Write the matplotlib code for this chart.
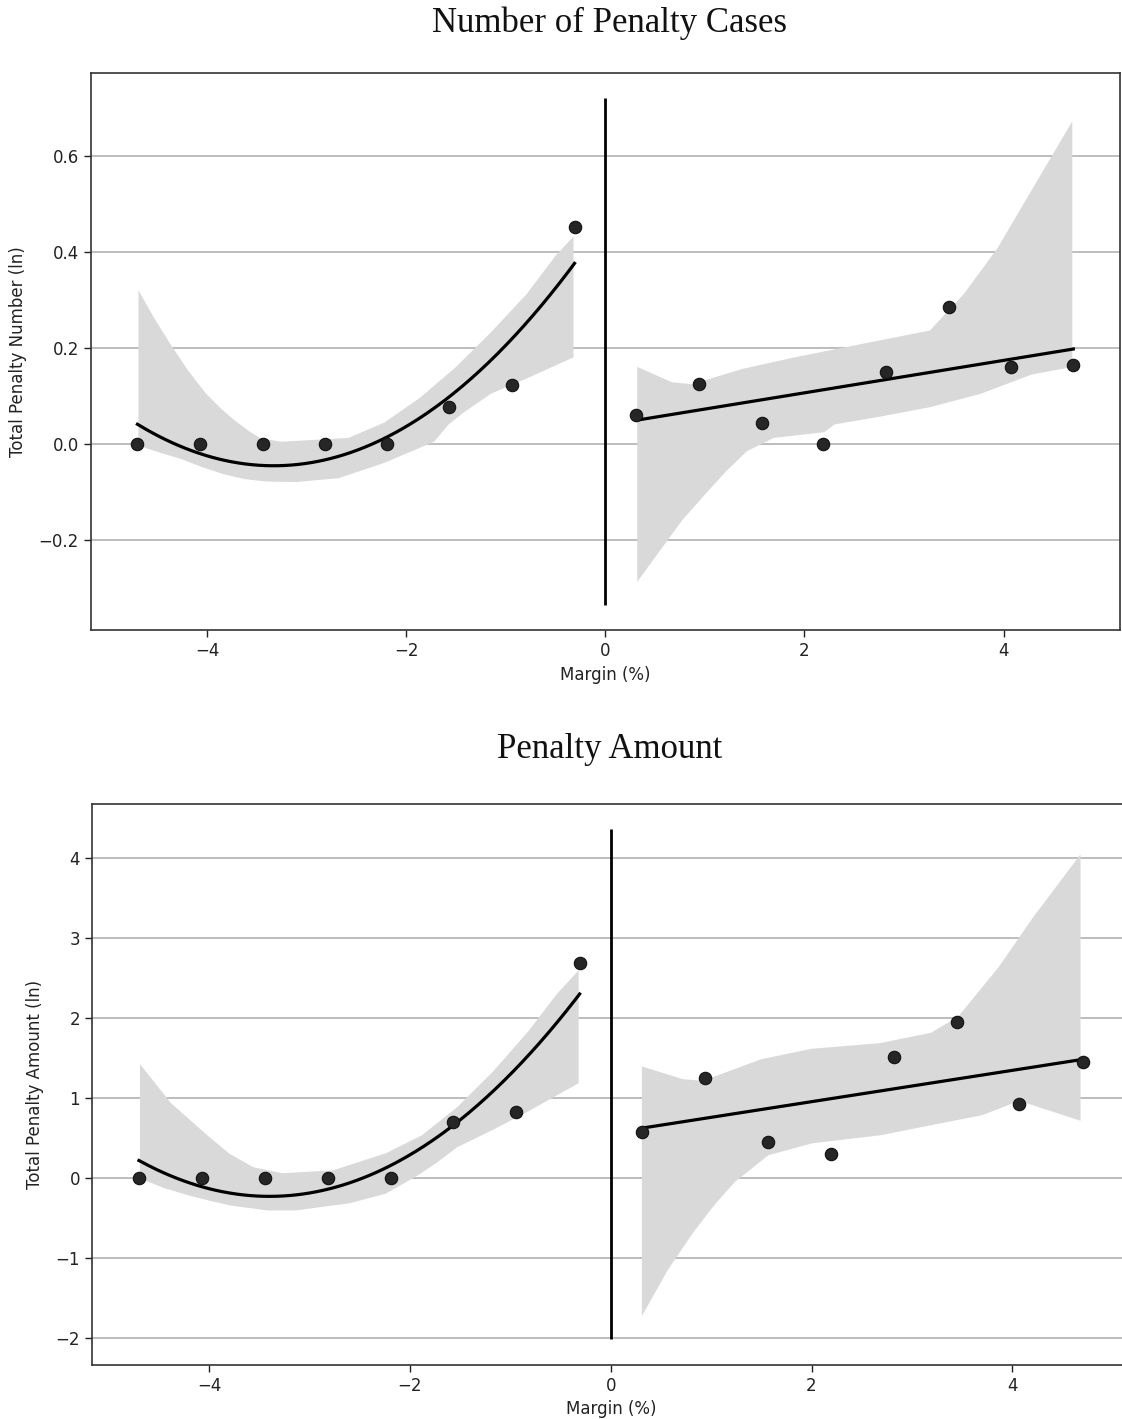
import numpy as np
import matplotlib
matplotlib.use("Agg")
import matplotlib.pyplot as plt

# ---------------- data ----------------
x_left = [-4.70, -4.07, -3.44, -2.82, -2.19, -1.57, -0.94, -0.31]
x_right = [0.31, 0.94, 1.57, 2.19, 2.82, 3.45, 4.07, 4.70]

num_left = [0.0, 0.0, 0.0, 0.0, 0.0, 0.078, 0.124, 0.452]
num_right = [0.061, 0.125, 0.045, 0.0, 0.151, 0.285, 0.161, 0.165]

amt_left = [0.0, 0.0, 0.0, 0.0, 0.0, 0.69, 0.82, 2.68]
amt_right = [0.57, 1.24, 0.445, 0.30, 1.51, 1.95, 0.92, 1.45]

# confidence band edges
num_left_up_x = [-4.69, -4.53, -4.37, -4.19, -4.01, -3.86, -3.72, -3.58, -3.47, -3.26, -2.58, -2.22, -1.86, -1.50, -1.15, -0.79, -0.50, -0.32]
num_left_up_y = [0.321, 0.262, 0.209, 0.153, 0.105, 0.074, 0.049, 0.027, 0.013, 0.005, 0.013, 0.045, 0.097, 0.161, 0.233, 0.313, 0.393, 0.433]
num_left_lo_x = [-4.69, -4.47, -4.26, -4.05, -3.83, -3.62, -3.40, -3.11, -2.68, -2.22, -1.72, -1.58, -1.43, -1.15, -0.79, -0.32]
num_left_lo_y = [-0.003, -0.018, -0.031, -0.048, -0.063, -0.073, -0.078, -0.079, -0.071, -0.039, 0.005, 0.040, 0.065, 0.105, 0.137, 0.181]

num_right_up_x = [0.32, 0.67, 0.87, 1.38, 1.90, 2.58, 3.26, 3.60, 3.94, 4.28, 4.69]
num_right_up_y = [0.161, 0.129, 0.125, 0.157, 0.181, 0.209, 0.237, 0.313, 0.409, 0.529, 0.673]
num_right_lo_x = [0.32, 0.77, 1.00, 1.22, 1.42, 1.69, 2.20, 2.30, 2.75, 3.26, 3.77, 4.28, 4.69]
num_right_lo_y = [-0.287, -0.159, -0.105, -0.055, -0.015, 0.013, 0.025, 0.041, 0.057, 0.077, 0.105, 0.145, 0.161]

amt_left_up_x = [-4.69, -4.38, -4.02, -3.80, -3.56, -3.27, -2.77, -2.24, -1.88, -1.53, -1.17, -0.82, -0.54, -0.32]
amt_left_up_y = [1.42, 0.93, 0.53, 0.30, 0.13, 0.055, 0.09, 0.305, 0.53, 0.88, 1.33, 1.83, 2.29, 2.59]
amt_left_lo_x = [-4.69, -4.45, -4.21, -3.99, -3.78, -3.42, -3.14, -2.60, -2.24, -1.92, -1.74, -1.53, -1.17, -0.82, -0.32]
amt_left_lo_y = [-0.01, -0.13, -0.22, -0.29, -0.35, -0.41, -0.41, -0.32, -0.20, 0.03, 0.18, 0.38, 0.60, 0.83, 1.18]

amt_right_up_x = [0.31, 0.72, 0.92, 1.50, 2.00, 2.68, 3.19, 3.46, 3.87, 4.20, 4.68]
amt_right_up_y = [1.39, 1.23, 1.21, 1.48, 1.61, 1.68, 1.81, 2.01, 2.64, 3.24, 4.04]
amt_right_lo_x = [0.31, 0.57, 0.83, 1.04, 1.24, 1.57, 2.01, 2.69, 3.19, 3.70, 4.07, 4.68]
amt_right_lo_y = [-1.73, -1.15, -0.67, -0.33, -0.05, 0.28, 0.43, 0.53, 0.655, 0.78, 0.96, 0.71]

num_vline = [-0.335, 0.722]
amt_vline = [-2.02, 4.35]

yticks_num = [-0.2, 0.0, 0.2, 0.4, 0.6]
yticks_amt = [-2, -1, 0, 1, 2, 3, 4]
xticks = [-4, -2, 0, 2, 4]

titles = ["Number of Penalty Cases", "Penalty Amount"]
ylabels = ["Total Penalty Number (ln)", "Total Penalty Amount (ln)"]
xlabel = "Margin (%)"

# ---------------- figure ----------------
plt.rcParams['font.family'] = ['DejaVu Sans']
fig = plt.figure(figsize=(11.22, 14.19), dpi=100)

ax1 = fig.add_axes([0.0808, 0.5559, 0.9175, 0.3930])
ax2 = fig.add_axes([0.0818, 0.0382, 0.9251, 0.3952])

band_color = '#d9d9d9'
pt_color = '#262626'


def draw(ax, xl, yl, xr, yr, lux, luy, llx, lly, rux, ruy, rlx, rly, vline, yticks):
    # bands
    ax.fill(list(lux) + list(llx[::-1]), list(luy) + list(lly[::-1]),
            color=band_color, lw=0, zorder=1)
    ax.fill(list(rux) + list(rlx[::-1]), list(ruy) + list(rly[::-1]),
            color=band_color, lw=0, zorder=1)
    # fits
    xl_a = np.array(xl); xr_a = np.array(xr)
    cl = np.polyfit(xl_a, yl, 2)
    cr = np.polyfit(xr_a, yr, 1)
    gl = np.linspace(xl_a.min(), xl_a.max(), 200)
    gr = np.linspace(xr_a.min(), xr_a.max(), 200)
    ax.plot(gl, np.polyval(cl, gl), color='black', lw=2.3, zorder=3)
    ax.plot(gr, np.polyval(cr, gr), color='black', lw=2.3, zorder=3)
    # points
    ax.scatter(xl, yl, s=80, color=pt_color, edgecolors='#111111', linewidths=0.8, zorder=4)
    ax.scatter(xr, yr, s=80, color=pt_color, edgecolors='#111111', linewidths=0.8, zorder=4)
    # vertical line at zero
    ax.vlines(0, vline[0], vline[1], color='black', lw=2.0, zorder=2)
    ax.set_xlim(-5.17, 5.17)
    rng = vline[1] - vline[0]
    ax.set_ylim(vline[0] - 0.05 * rng, vline[1] + 0.05 * rng)
    ax.set_yticks(yticks)
    ax.set_xticks(xticks)
    ax.yaxis.grid(True, color='#b8b8b8', lw=1.3, zorder=0)
    ax.set_axisbelow(True)
    ax.tick_params(labelsize=12, length=5, width=1.0, colors='#222222')
    for sp in ax.spines.values():
        sp.set_color('#333333')
        sp.set_linewidth(1.2)
    ax.set_xlabel(xlabel, fontsize=12, color='#222222', labelpad=4)


draw(ax1, x_left, num_left, x_right, num_right,
     num_left_up_x, num_left_up_y, num_left_lo_x, num_left_lo_y,
     num_right_up_x, num_right_up_y, num_right_lo_x, num_right_lo_y,
     num_vline, yticks_num)
ax1.set_yticklabels(['\u22120.2', '0.0', '0.2', '0.4', '0.6'])
ax1.set_ylabel(ylabels[0], fontsize=12, color='#222222', labelpad=8)

draw(ax2, x_left, amt_left, x_right, amt_right,
     amt_left_up_x, amt_left_up_y, amt_left_lo_x, amt_left_lo_y,
     amt_right_up_x, amt_right_up_y, amt_right_lo_x, amt_right_lo_y,
     amt_vline, yticks_amt)
ax2.set_ylabel(ylabels[1], fontsize=12, color='#222222', labelpad=8)

fig.text(610 / 1122, 1 - 23 / 1419, titles[0], fontsize=25, family='Liberation Serif',
         ha='center', va='center', color='#111111')
fig.text(610 / 1122, 1 - 750 / 1419, titles[1], fontsize=25, family='Liberation Serif',
         ha='center', va='center', color='#111111')

fig.savefig('out.png', dpi=100)
